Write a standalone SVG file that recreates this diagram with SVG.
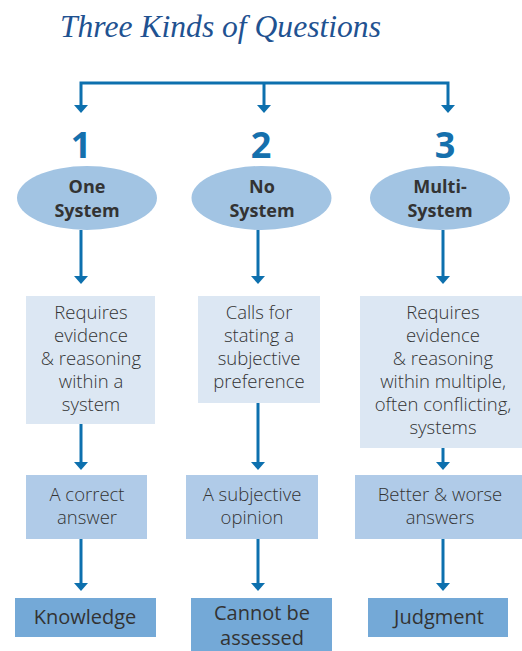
<svg xmlns="http://www.w3.org/2000/svg" width="522" height="651" viewBox="0 0 522 651">
<defs>
<style>
.title{font-family:"Liberation Serif",serif;font-style:italic;font-size:31.6px;fill:#1f5291}
.num{font-family:"Open Sans","Noto Sans",sans-serif;font-weight:700;font-size:36px;fill:#1570ad;text-anchor:middle}
.ell{fill:#a2c4e3}
.et{font-family:"Open Sans","Noto Sans",sans-serif;font-weight:700;font-size:18px;fill:#333;text-anchor:middle}
.b1{fill:#dce7f3}
.b2{fill:#b0cbe8}
.b3{fill:#74a9d7}
.t{font-family:"Open Sans","Noto Sans",sans-serif;font-weight:300;font-size:18.5px;fill:#333;text-anchor:middle}
.t3{font-family:"Open Sans","Noto Sans",sans-serif;font-weight:400;font-size:20px;fill:#333;text-anchor:middle}
.c{fill:none;stroke:#0d70ae;stroke-width:3}
.ah{fill:#0d70ae}
</style>
</defs>
<text class="title" x="60" y="37">Three Kinds of Questions</text>
<g id="connectors">
<path class="c" d="M81,106 V83 H448 V106"/>
<path class="c" d="M264,83 V106"/>
<path class="ah" d="M74,105 L88,105 L81,113 Z"/>
<path class="ah" d="M257,105 L271,105 L264,113 Z"/>
<path class="ah" d="M441,105 L455,105 L448,113 Z"/>
<path class="c" d="M81,230 V277"/>
<path class="ah" d="M74,276 L88,276 L81,284 Z"/>
<path class="c" d="M258,230 V277"/>
<path class="ah" d="M251,276 L265,276 L258,284 Z"/>
<path class="c" d="M443,230 V277"/>
<path class="ah" d="M436,276 L450,276 L443,284 Z"/>
<path class="c" d="M81,424 V463"/>
<path class="ah" d="M74,462 L88,462 L81,470 Z"/>
<path class="c" d="M258,403 V463"/>
<path class="ah" d="M251,462 L265,462 L258,470 Z"/>
<path class="c" d="M443,448 V463"/>
<path class="ah" d="M436,462 L450,462 L443,470 Z"/>
<path class="c" d="M81,539 V584"/>
<path class="ah" d="M74,583 L88,583 L81,591 Z"/>
<path class="c" d="M258,539 V584"/>
<path class="ah" d="M251,583 L265,583 L258,591 Z"/>
<path class="c" d="M443,539 V584"/>
<path class="ah" d="M436,583 L450,583 L443,591 Z"/>
</g>
<g id="n1">
<text class="num" x="81" y="158">1</text>
<ellipse class="ell" cx="87" cy="198" rx="70" ry="32"/>
<text class="et" x="87" y="193">One</text>
<text class="et" x="87" y="217">System</text>
</g>
<g id="n2">
<text class="num" x="261" y="158">2</text>
<ellipse class="ell" cx="261.5" cy="198" rx="70" ry="32"/>
<text class="et" x="262" y="193">No</text>
<text class="et" x="262" y="217">System</text>
</g>
<g id="n3">
<text class="num" x="445" y="158">3</text>
<ellipse class="ell" cx="440" cy="198" rx="70" ry="32"/>
<text class="et" x="440" y="193">Multi-</text>
<text class="et" x="440" y="217">System</text>
</g>
<g id="r1a">
<rect class="b1" x="26" y="296" width="129" height="128"/>
<text class="t" x="91" y="319">Requires</text>
<text class="t" x="91" y="342">evidence</text>
<text class="t" x="91" y="365">&amp; reasoning</text>
<text class="t" x="91" y="388">within a</text>
<text class="t" x="91" y="411">system</text>
</g>
<g id="r1b">
<rect class="b1" x="198" y="296" width="122" height="107"/>
<text class="t" x="259" y="319">Calls for</text>
<text class="t" x="259" y="342">stating a</text>
<text class="t" x="259" y="365">subjective</text>
<text class="t" x="259" y="388">preference</text>
</g>
<g id="r1c">
<rect class="b1" x="360" y="296" width="162" height="152"/>
<text class="t" x="443" y="319">Requires</text>
<text class="t" x="443" y="342">evidence</text>
<text class="t" x="443" y="365">&amp; reasoning</text>
<text class="t" x="443" y="388">within multiple,</text>
<text class="t" x="443" y="411">often conflicting,</text>
<text class="t" x="443" y="434">systems</text>
</g>
<g id="r2a">
<rect class="b2" x="26" y="475" width="121" height="64"/>
<text class="t" x="87" y="501">A correct</text>
<text class="t" x="87" y="524">answer</text>
</g>
<g id="r2b">
<rect class="b2" x="186" y="475" width="132" height="64"/>
<text class="t" x="252" y="501">A subjective</text>
<text class="t" x="252" y="524">opinion</text>
</g>
<g id="r2c">
<rect class="b2" x="355" y="475" width="167" height="64"/>
<text class="t" x="440" y="501">Better &amp; worse</text>
<text class="t" x="440" y="524">answers</text>
</g>
<g id="r3a">
<rect class="b3" x="15" y="598" width="141" height="39"/>
<text class="t3" x="85" y="624">Knowledge</text>
</g>
<g id="r3b">
<rect class="b3" x="191" y="598" width="141" height="53"/>
<text class="t3" x="262" y="620">Cannot be</text>
<text class="t3" x="262" y="645">assessed</text>
</g>
<g id="r3c">
<rect class="b3" x="368" y="598" width="140" height="39"/>
<text class="t3" x="439" y="624">Judgment</text>
</g>
</svg>
